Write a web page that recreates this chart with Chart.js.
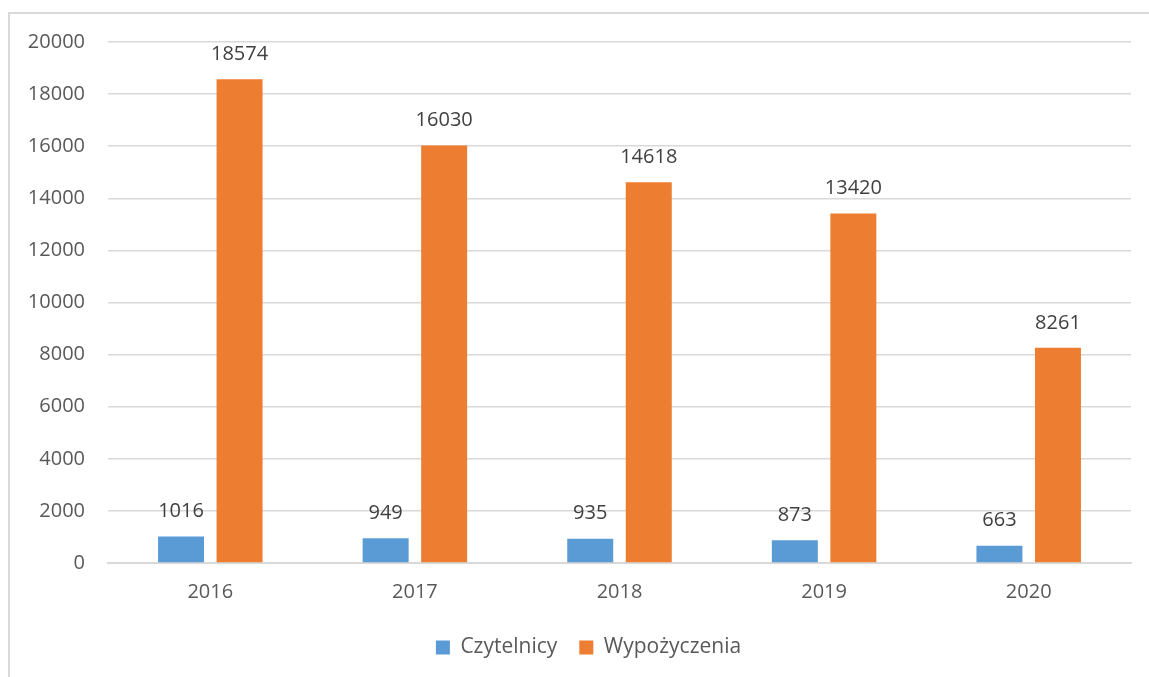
<!DOCTYPE html>
<html>
<head>
<meta charset="utf-8">
<script src="https://cdn.jsdelivr.net/npm/chart.js@4"></script>
<style>
  html, body { margin: 0; padding: 0; background: #fff; overflow: hidden; }
  #frame { position: absolute; left: 8px; top: 12px; width: 1160px; height: 700px; border: 2px solid #d9d9d9; box-sizing: border-box; }
  #wrap { position: absolute; left: 0; top: 0; width: 1149px; height: 677px; }
</style>
</head>
<body>
<div id="frame"></div>
<div id="wrap"><canvas id="myChart" width="1149" height="677"></canvas></div>
<script>
const years = ["2016", "2017", "2018", "2019", "2020"];
const readers = [1016, 949, 935, 873, 663];
const loans = [18574, 16030, 14618, 13420, 8261];
const yTicks = [0, 2000, 4000, 6000, 8000, 10000, 12000, 14000, 16000, 18000, 20000];

const textColor = "#595959";
const fontFamily = "'Open Sans', sans-serif";

// value labels above each bar
const valueLabels = {
  id: "valueLabels",
  afterDatasetsDraw(chart) {
    const ctx = chart.ctx;
    ctx.save();
    ctx.font = "20px " + fontFamily;
    ctx.fillStyle = "#404040";
    ctx.textAlign = "center";
    ctx.textBaseline = "bottom";
    chart.data.datasets.forEach((ds, i) => {
      chart.getDatasetMeta(i).data.forEach((bar, j) => {
        ctx.fillText(String(ds.data[j]), bar.x, bar.y - 15);
      });
    });
    ctx.restore();
  }
};

// legend in the original sits a bit right of centre
const legendShift = {
  id: "legendShift",
  afterLayout(chart) {
    if (chart.legend) chart.legend.left += 46;
  }
};

var ctx = document.getElementById("myChart").getContext("2d");

var myChart = new Chart(ctx, {
  type: "bar",
  data: {
    labels: years,
    datasets: [
      { label: "Czytelnicy", data: readers, backgroundColor: "#5b9bd5" },
      { label: "Wypożyczenia", data: loans, backgroundColor: "#ed7d31" }
    ]
  },
  options: {
    responsive: false,
    animation: false,
    devicePixelRatio: 1,
    categoryPercentage: 0.572,
    barPercentage: 0.786,
    layout: { padding: { top: 42, right: 18, left: 0, bottom: 9 } },
    plugins: {
      tooltip: { enabled: false },
      legend: {
        position: "bottom",
        labels: {
          boxWidth: 14,
          boxHeight: 14,
          padding: 22,
          color: textColor,
          font: { family: fontFamily, size: 21 }
        }
      }
    },
    scales: {
      x: {
        grid: { display: false, drawTicks: false },
        border: { display: true, color: "#d9d9d9", width: 2 },
        ticks: { color: textColor, padding: 17, maxRotation: 0, font: { family: fontFamily, size: 20 } },
        afterFit(scale) { scale.height = 52; }
      },
      y: {
        min: 0,
        max: 20000,
        afterBuildTicks(scale) { scale.ticks = yTicks.map(v => ({ value: v })); },
        grid: { color: "#d9d9d9", lineWidth: 1.5, drawTicks: false },
        border: { display: false },
        ticks: {
          color: textColor,
          padding: 23,
          font: { family: fontFamily, size: 20 },
          callback: v => String(v)
        },
        afterFit(scale) { scale.width = 108; }
      }
    }
  },
  plugins: [valueLabels, legendShift]
});
</script>
</body>
</html>
